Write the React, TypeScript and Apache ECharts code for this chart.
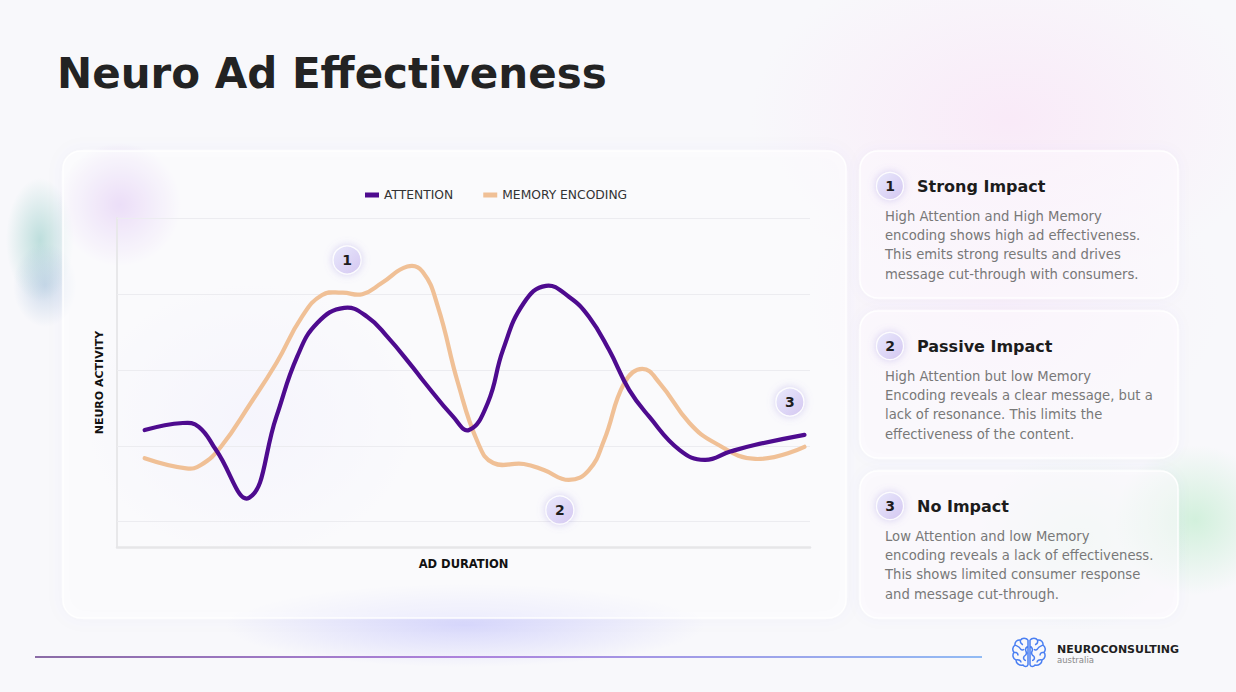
import React, { useEffect, useRef } from "react";
import * as echarts from "echarts";

// ---- data (ad duration %, neuro activity level) ----
const attentionTime = [4, 9.5, 11.8, 14.3, 19.05, 23, 26, 28.9, 32.8, 36.1, 39, 42.6, 44.1, 48.5, 50.8, 53.5, 55.7, 58.7, 61.9, 65.2, 68.1, 71, 73.9, 76.8, 81.2, 84.8, 88.5, 92, 99.2];
const attentionValues = [4.62, 4.9, 4.75, 3.83, 1.94, 5.15, 7.52, 8.85, 9.45, 9.1, 8.31, 7.13, 6.6, 5.15, 4.62, 5.69, 7.79, 9.64, 10.32, 9.89, 9.1, 7.79, 6.21, 5.15, 3.83, 3.44, 3.77, 4.03, 4.43];
const memoryTime = [4, 10, 12.1, 15, 19.3, 23, 26.7, 29.6, 32.5, 35.4, 38.2, 41.9, 44.1, 46.3, 49.2, 52.1, 54.3, 58.7, 61.6, 65.2, 68.1, 70.3, 73.2, 75.8, 78.3, 82.6, 86.3, 92.1, 99.2];
const memoryValues = [3.51, 3.11, 3.24, 3.96, 5.69, 7.27, 9.1, 9.96, 10.05, 9.99, 10.43, 11.08, 10.88, 9.5, 6.48, 4.11, 3.32, 3.28, 3.04, 2.65, 3.04, 4.23, 6.48, 7.04, 6.48, 4.9, 4.11, 3.48, 3.96];
const gridLevels = [1, 4, 7, 10, 13];
const badgeLabels = ["1", "2", "3"];
const badgeTime = [33.2, 63.9, 97.1];
const badgeLevel = [11.34, 1.46, 5.73];

const seriesNames = ["ATTENTION", "MEMORY ENCODING"];
const seriesColors = ["#4e0b8f", "#f0c096"];
const cardTitles = ["Strong Impact", "Passive Impact", "No Impact"];
const cardLines = [
  ["High Attention and High Memory", "encoding shows high ad effectiveness.", "This emits strong results and drives", "message cut-through with consumers."],
  ["High Attention but low Memory", "Encoding reveals a clear message, but a", "lack of resonance. This limits the", "effectiveness of the content."],
  ["Low Attention and low Memory", "encoding reveals a lack of effectiveness.", "This shows limited consumer response", "and message cut-through."],
];

const FONT = '"DejaVu Sans", sans-serif';

const BRAIN =
  "M17 4 C15 1.5 11 1.5 9.5 4 C6 3.5 3.5 6 4 9 C1.5 10.5 1 14 3 16 C1 18.5 2 22.5 5 23.5 C5 27 8.5 29.5 12 28.5 C13.5 30.5 16.5 30.5 17 28 L17 4 " +
  "M19 4 C21 1.5 25 1.5 26.5 4 C30 3.5 32.5 6 32 9 C34.5 10.5 35 14 33 16 C35 18.5 34 22.5 31 23.5 C31 27 27.5 29.5 24 28.5 C22.5 30.5 19.5 30.5 19 28 L19 4 " +
  "M9.5 4 C9 6 10 8 12 8.5 M4 9 C6 10 8 10 9 12 C10 14 12 14 13 13 M3 16 C5 16 7 17 7 19 M5 23.5 C8 23 10 24 10 26 M17 10 C15 11 14 13 15 15 C16 17 15 19 13 20 M13 20 C12 22 13 24 15 24 " +
  "M26.5 4 C27 6 26 8 24 8.5 M32 9 C30 10 28 10 27 12 C26 14 24 14 23 13 M33 16 C31 16 29 17 29 19 M31 23.5 C28 23 26 24 26 26 M19 10 C21 11 22 13 21 15 C20 17 21 19 23 20 M23 20 C24 22 23 24 21 24";

let registered = false;

function txt(text: string, x: number, y: number, size: number, color: string, weight: string = "normal", align: string = "left", z = 10) {
  return {
    type: "text",
    x,
    y,
    z,
    silent: true,
    style: {
      text,
      fill: color,
      fontSize: size,
      fontWeight: weight,
      fontFamily: FONT,
      align,
      verticalAlign: "middle",
      textAlign: align,
      textVerticalAlign: "middle",
    },
  };
}

function blob(cx: number, cy: number, rx: number, ry: number, rgb: string, a: number) {
  return {
    type: "ellipse",
    z: -20,
    silent: true,
    shape: { cx, cy, rx, ry },
    style: {
      fill: new echarts.graphic.RadialGradient(0.5, 0.5, 0.5, [
        { offset: 0, color: `rgba(${rgb},${a})` },
        { offset: 0.5, color: `rgba(${rgb},${a * 0.5})` },
        { offset: 1, color: `rgba(${rgb},0)` },
      ]),
    },
  };
}

function badgeFill() {
  return new echarts.graphic.LinearGradient(0, 0, 1, 1, [
    { offset: 0, color: "#e9e9fc" },
    { offset: 1, color: "#d4c7f1" },
  ]);
}

function curveSeries(name: string, color: string, times: number[], values: number[], z: number) {
  const data = times.map((t, i) => [t, values[i]]);
  return {
    name,
    type: "custom",
    z,
    data,
    encode: { x: 0, y: 1 },
    itemStyle: { color },
    renderItem: (params: any, api: any) => {
      if (params.dataIndex !== 0) return null;
      const points = data.map((d) => api.coord(d));
      return {
        type: "polyline",
        shape: { points, smooth: 0.45 },
        style: { stroke: color, lineWidth: 4.2, fill: null, lineCap: "round", lineJoin: "round" },
        silent: true,
      };
    },
  };
}

export default function App() {
  const ref = useRef<HTMLDivElement>(null);

  useEffect(() => {
    if (!ref.current) return;
    if (!registered) {
      echarts.graphic.registerShape("brain", echarts.graphic.extendPath(BRAIN, {}));
      registered = true;
    }
    const chart = echarts.init(ref.current, undefined, { renderer: "svg" });

    const graphics: any[] = [];
    // background blobs
    graphics.push(blob(1010, 120, 260, 170, "250,220,245", 0.5));
    graphics.push(blob(1000, 300, 220, 160, "250,228,248", 0.4));
    graphics.push(blob(120, 205, 62, 62, "212,180,240", 0.85));
    graphics.push(blob(40, 240, 34, 62, "150,205,200", 0.6));
    graphics.push(blob(45, 285, 32, 42, "150,180,215", 0.45));
    graphics.push(blob(465, 625, 240, 42, "205,205,252", 0.75));
    graphics.push(blob(250, 420, 180, 150, "230,228,252", 0.55));
    graphics.push(blob(1195, 520, 80, 75, "185,235,200", 0.6));
    graphics.push(blob(1080, 540, 110, 90, "205,240,215", 0.3));

    // chart card
    graphics.push({
      type: "rect",
      z: -10,
      silent: true,
      shape: { x: 63, y: 151, width: 783, height: 467, r: 18 },
      style: {
        fill: "rgba(255,255,255,0.5)",
        stroke: "rgba(255,255,255,0.95)",
        lineWidth: 1.5,
        shadowBlur: 18,
        shadowColor: "rgba(120,100,180,0.05)",
      },
    });

    // title
    graphics.push(txt("Neuro Ad Effectiveness", 57, 73, 42, "#232323", "bold"));

    // right cards
    const cardTop = [151, 311, 471];
    cardTop.forEach((top, i) => {
      graphics.push({
        type: "rect",
        z: -10,
        silent: true,
        shape: { x: 860, y: top, width: 318, height: 147, r: 18 },
        style: {
          fill: "rgba(255,252,255,0.5)",
          stroke: "rgba(255,255,255,0.95)",
          lineWidth: 1.5,
          shadowBlur: 14,
          shadowColor: "rgba(120,100,180,0.05)",
        },
      });
      graphics.push({
        type: "circle",
        z: 5,
        silent: true,
        shape: { cx: 890, cy: top + 35, r: 13.5 },
        style: {
          fill: badgeFill(),
          stroke: "rgba(255,255,255,0.9)",
          lineWidth: 1.2,
          shadowBlur: 8,
          shadowColor: "rgba(140,120,220,0.35)",
        },
      });
      graphics.push(txt(badgeLabels[i], 890, top + 35, 14, "#1e1e1e", "bold", "center"));
      graphics.push(txt(cardTitles[i], 917, top + 35, 16, "#1c1c1c", "bold"));
      cardLines[i].forEach((line, j) => {
        graphics.push(txt(line, 885, top + 65 + j * 19.4, 13.2, "#787878"));
      });
    });

    // bottom gradient rule
    graphics.push({
      type: "rect",
      z: 0,
      silent: true,
      shape: { x: 35, y: 656, width: 947, height: 2 },
      style: {
        fill: new echarts.graphic.LinearGradient(0, 0, 1, 0, [
          { offset: 0, color: "#8b6ca6" },
          { offset: 0.45, color: "#ad82dc" },
          { offset: 1, color: "#92bbf4" },
        ]),
      },
    });

    // logo
    graphics.push({
      type: "brain",
      x: 1011,
      y: 636,
      scaleX: 1,
      scaleY: 1.02,
      z: 10,
      silent: true,
      style: { fill: "none", stroke: "#4a7ff2", lineWidth: 1.5 },
    });
    graphics.push(txt("NEUROCONSULTING", 1057, 649, 11, "#1f1f1f", "bold"));
    graphics.push(txt("australia", 1057, 660, 8.5, "#8a8a8a"));

    chart.setOption({
      animation: false,
      backgroundColor: "#f8f8fb",
      textStyle: { fontFamily: FONT },
      legend: {
        data: seriesNames,
        left: 360,
        top: 184,
        icon: "rect",
        itemWidth: 14,
        itemHeight: 5,
        itemGap: 30,
        textStyle: { fontSize: 12.3, color: "#333", fontFamily: FONT },
      },
      grid: { left: 117, top: 218, width: 693, height: 329, containLabel: false },
      xAxis: {
        type: "value",
        min: 0,
        max: 100,
        name: "AD DURATION",
        nameLocation: "middle",
        nameGap: 11,
        nameTextStyle: { fontSize: 11.5, fontWeight: "bold", color: "#111", fontFamily: FONT, verticalAlign: "top" },
        axisLine: { show: true, lineStyle: { color: "#e6e6e8", width: 2.5 } },
        axisTick: { show: false },
        axisLabel: { show: false },
        splitLine: { show: false },
      },
      yAxis: {
        type: "value",
        min: 0,
        max: 13,
        name: "NEURO ACTIVITY",
        nameLocation: "middle",
        nameGap: 12,
        nameRotate: 90,
        nameTextStyle: { fontSize: 11, fontWeight: "bold", color: "#111", fontFamily: FONT },
        axisLine: { show: true, lineStyle: { color: "#e8e8ea", width: 2 } },
        axisTick: { show: false },
        axisLabel: { show: false },
        splitLine: { show: false },
      },
      series: [
        curveSeries(seriesNames[1], seriesColors[1], memoryTime, memoryValues, 3),
        curveSeries(seriesNames[0], seriesColors[0], attentionTime, attentionValues, 4),
        {
          name: "badges",
          type: "scatter",
          z: 6,
          silent: true,
          symbol: "circle",
          symbolSize: 28,
          itemStyle: {
            color: badgeFill(),
            borderColor: "rgba(255,255,255,0.9)",
            borderWidth: 1.2,
            shadowBlur: 8,
            shadowColor: "rgba(140,120,220,0.35)",
            opacity: 1,
          },
          label: { show: true, position: "inside", formatter: "{b}", color: "#1e1e1e", fontWeight: "bold", fontSize: 14, fontFamily: FONT },
          data: badgeLabels.map((b, i) => ({ name: b, value: [badgeTime[i], badgeLevel[i]] })),
          markLine: {
            silent: true,
            symbol: ["none", "none"],
            label: { show: false },
            lineStyle: { color: "#ececf0", width: 1, type: "solid" },
            data: gridLevels.map((v) => ({ yAxis: v })),
            z: 1,
          },
        },
      ],
      graphic: { elements: graphics },
    });

    return () => chart.dispose();
  }, []);

  return <div ref={ref} style={{ position: "fixed", left: 0, top: 0, width: 1236, height: 692 }} />;
}
